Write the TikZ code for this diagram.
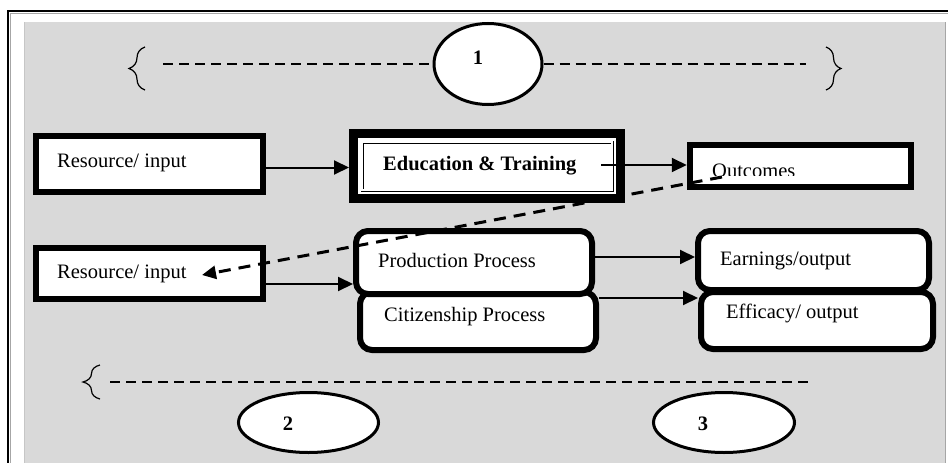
\documentclass[tikz,border=0pt]{standalone}
\usepackage{fontspec}
\setmainfont{Liberation Serif}
\usetikzlibrary{shapes.geometric,arrows.meta,decorations.pathreplacing}
\definecolor{bggray}{RGB}{217,217,217}
\begin{document}
\begin{tikzpicture}[x=1pt,y=-1pt,
  every node/.style={font=\fontsize{20.5}{24}\selectfont},
  sqbox/.style={draw=black, fill=white, line width=6pt, inner sep=0pt},
  rbox/.style={draw=black, fill=white, line width=6pt, rounded corners=12pt, inner sep=0pt},
  oval/.style={draw=black, fill=white, ellipse, line width=3pt, inner sep=0pt},
  lbl/.style={anchor=base west, inner sep=0pt},
  num/.style={inner sep=0pt, font=\fontsize{20.5}{24}\selectfont\bfseries},
  arr/.style={line width=2pt, -{Triangle[length=15pt,width=14pt]}},
  dasharr/.style={line width=3pt, dash pattern=on 12pt off 8pt, -{Triangle[length=14pt,width=13pt]}},
  dline/.style={line width=1.5pt, dash pattern=on 10pt off 6pt},
  bracestyle/.style={decorate, decoration={brace, amplitude=#1}, line width=1.2pt}]
\useasboundingbox (0,0) rectangle (948,463);
\fill[white] (0,0) rectangle (948,463);
% frame
\draw[line width=1.5pt] (8,463) -- (8,11) -- (948,11);
\draw[gray!70, line width=1pt] (10.5,463) -- (10.5,13.5) -- (948,13.5);
\fill[bggray] (24,22) rectangle (945,463);
\draw[gray!45, line width=1pt] (24,22) -- (24,463);
\draw[gray!70, line width=1pt] (945,22) -- (945,463);

% braces and dashed lines
\draw[bracestyle=16pt] (145,90) -- (145,47);
\draw[bracestyle=15pt] (826,47) -- (826,90);
\draw[bracestyle=17pt] (100,399) -- (100,365);

\node[oval, minimum width=108pt, minimum height=81pt] (e1) at (488,64) {};
\node[num] (n1) at (478,58) {1};
\coordinate (dl1) at (163,64);
\coordinate (dr1) at (806,64);
\draw[dline] (dl1) -- (e1.west);
\draw[dline] (e1.east) -- (dr1);

\coordinate (bl) at (110,382);
\coordinate (br) at (812,382);
\draw[dline] (bl) -- (br);
\node[oval, minimum width=140pt, minimum height=60pt] (e2) at (308.5,422.5) {};
\node[num] (n2) at (288,424) {2};
\node[oval, minimum width=141pt, minimum height=60pt] (e3) at (724,422.5) {};
\node[num] (n3) at (703,424) {3};

% boxes
\node[sqbox, minimum width=227pt, minimum height=56pt] (r1) at (149.5,164) {};
\node[lbl] (t1) at (57,167) {Resource/ input};
\node[sqbox, minimum width=227pt, minimum height=51pt] (r2) at (149.5,273.5) {};
\node[lbl] (t2) at (57,278) {Resource/ input};

\node[draw=black, fill=white, line width=9pt, inner sep=0pt, minimum width=267pt, minimum height=65pt] (edu) at (487,166) {};
\node[draw=black, double=white, line width=0.8pt, double distance=1.4pt, inner sep=0pt, minimum width=250pt, minimum height=48pt] (edui) at (487,166) {};
\node[lbl, font=\fontsize{20.5}{24}\selectfont\bfseries] (tedu) at (383,170) {Education \& Training};

\node[sqbox, line width=6.5pt, minimum width=221pt, minimum height=42pt] (out) at (800.5,166) {};
\begin{scope}
\clip (700,150) rectangle (900,175.5);
\node[lbl] (tout) at (712,177.5) {Outcomes};
\end{scope}

\node[rbox, minimum width=236pt, minimum height=58pt] (cit) at (478,321) {};
\node[rbox, minimum width=236pt, minimum height=63pt] (prod) at (474,262.5) {};
\node[lbl] (tprod) at (378,267) {Production Process};
\node[lbl] (tcit) at (384,321) {Citizenship Process};

\node[rbox, minimum width=232pt, minimum height=57pt] (eff) at (817,320.5) {};
\node[rbox, minimum width=231pt, minimum height=59pt] (earn) at (813.5,260.5) {};
\node[lbl] (tearn) at (720,265) {Earnings/output};
\node[lbl] (teff) at (726,318) {Efficacy/ output};

% arrows
\coordinate (ya) at (0,167.5);
\coordinate (yb) at (0,284);
\coordinate (yc) at (0,257);
\coordinate (yd) at (0,298);
\coordinate (ye) at (601,165);
\draw[arr] (r1.east |- ya) -- (edu.west |- ya);
\draw[arr] (ye) -- (out.west |- ye);
\draw[arr] (r2.east |- yb) -- (prod.west |- yb);
\draw[arr] (prod.east |- yc) -- (earn.west |- yc);
\draw[arr] (cit.east |- yd) -- (eff.west |- yd);

\coordinate (ds) at (722,177);
\coordinate (de) at (202,275);
\draw[dasharr] (ds) -- (de);
\end{tikzpicture}
\end{document}
